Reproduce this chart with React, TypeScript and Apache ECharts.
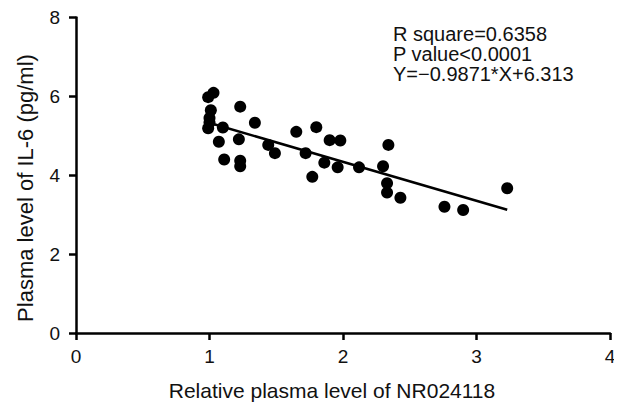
import React, { useEffect, useRef } from "react";
import * as echarts from "echarts";

const xValues = [1.03, 0.99, 1.01, 1.0, 1.0, 0.99, 1.1, 1.23, 1.34, 1.07, 1.22, 1.11, 1.23, 1.23, 1.44, 1.49, 1.65, 1.8, 1.72, 1.9, 1.98, 1.86, 1.77, 1.96, 2.12, 2.34, 2.3, 2.33, 2.33, 2.43, 2.76, 2.9, 3.23];
const yValues = [6.09, 5.98, 5.65, 5.45, 5.34, 5.19, 5.21, 5.74, 5.33, 4.85, 4.91, 4.4, 4.37, 4.23, 4.77, 4.56, 5.1, 5.22, 4.56, 4.89, 4.88, 4.32, 3.96, 4.2, 4.2, 4.77, 4.23, 3.8, 3.56, 3.43, 3.2, 3.12, 3.67];
const fitLine = [[0.99, 5.336], [3.23, 3.125]];
const xTicks = [0, 1, 2, 3, 4];
const yTicks = [0, 2, 4, 6, 8];
const xTitle = "Relative plasma level of NR024118";
const yTitle = "Plasma level of IL-6 (pg/ml)";
const statLines = ["R square=0.6358", "P value<0.0001", "Y=\u22120.9871*X+6.313"];

const FONT = "'Liberation Sans', Arial, Helvetica, sans-serif";

export default function App() {
  const ref = useRef<HTMLDivElement>(null);
  useEffect(() => {
    if (!ref.current) return;
    const chart = echarts.init(ref.current, null, { renderer: "svg" });
    const points = xValues.map((x, i) => [x, yValues[i]]);
    chart.setOption({
      animation: false,
      backgroundColor: "#ffffff",
      grid: { left: 76, right: 12, top: 17.5, bottom: 77, containLabel: false },
      xAxis: {
        type: "value",
        min: xTicks[0],
        max: xTicks[xTicks.length - 1],
        interval: 1,
        axisLine: { onZero: false, lineStyle: { color: "#000", width: 2.5 } },
        axisTick: { show: true, inside: false, length: 7, lineStyle: { color: "#000", width: 2.5 } },
        axisLabel: { margin: 14, fontFamily: FONT, fontSize: 19, color: "#111" },
        splitLine: { show: false },
      },
      yAxis: {
        type: "value",
        min: yTicks[0],
        max: yTicks[yTicks.length - 1],
        interval: 2,
        axisLine: { onZero: false, lineStyle: { color: "#000", width: 2.5 } },
        axisTick: { show: true, inside: false, length: 7, lineStyle: { color: "#000", width: 2.5 } },
        axisLabel: { margin: 16, fontFamily: FONT, fontSize: 19, color: "#111" },
        splitLine: { show: false },
      },
      graphic: [
        {
          type: "text",
          x: 393,
          y: 24,
          style: {
            text: statLines.join("\n"),
            fontFamily: FONT,
            fontSize: 20,
            lineHeight: 20,
            fill: "#111",
          },
        },
        {
          type: "text",
          x: 332,
          y: 390,
          style: {
            text: xTitle,
            fontFamily: FONT,
            fontSize: 21,
            fill: "#111",
            textAlign: "center",
            textVerticalAlign: "middle",
          },
        },
        {
          type: "text",
          x: 25,
          y: 188,
          rotation: Math.PI / 2,
          style: {
            text: yTitle,
            fontFamily: FONT,
            fontSize: 22,
            fill: "#111",
            textAlign: "center",
            textVerticalAlign: "middle",
          },
        },
      ],
      series: [
        {
          type: "line",
          data: fitLine,
          symbol: "none",
          lineStyle: { color: "#000", width: 2.5 },
          z: 2,
        },
        {
          type: "scatter",
          data: points,
          symbol: "circle",
          symbolSize: 12,
          itemStyle: { color: "#000", opacity: 1 },
          z: 3,
        },
      ],
    });
    return () => chart.dispose();
  }, []);
  return <div ref={ref} style={{ width: 622, height: 410, margin: -8 }} />;
}
